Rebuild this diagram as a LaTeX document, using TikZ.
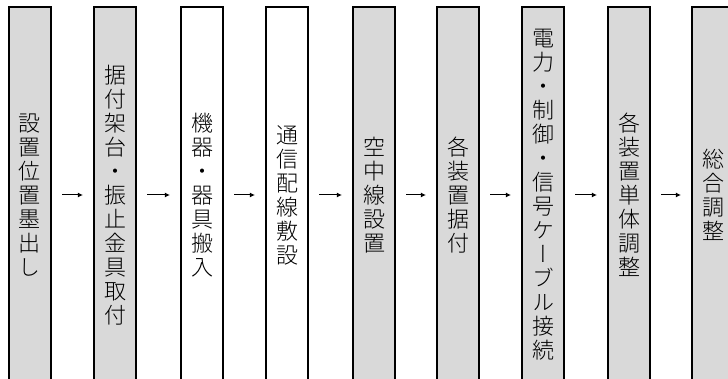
\documentclass[tikz,border=0pt]{standalone}
\usepackage{fontspec}
\newfontfamily\jpfont[RawFeature={+vert}]{Noto Sans CJK JP Light}
\usepackage{tikz}
\usetikzlibrary{arrows.meta,positioning}
\definecolor{stepc}{HTML}{D9D9D9}
\tikzset{
  >={Latex[length=5pt,width=5pt]},
  stage/.style={draw=black,line width=2.2pt,fill=white,minimum width=42pt,minimum height=376pt,inner sep=0pt,align=center,font=\jpfont\fontsize{22}{24}\selectfont},
  gstage/.style={stage,fill=stepc},
  flow/.style={->,line width=1pt,shorten <=10pt,shorten >=10pt},
}
\begin{document}
\begin{tikzpicture}[x=1pt,y=-1pt]
  \useasboundingbox (0,0) rectangle (728,379);
  \clip (0,0) rectangle (728,379);
  \node[gstage] (b1) at (30,195) {設\\置\\位\\置\\墨\\出\\し};
  \node[gstage] (b2) at (115,195) {据\\付\\架\\台\\・\\振\\止\\金\\具\\取\\付};
  \node[stage]  (b3) at (202,195) {機\\器\\・\\器\\具\\搬\\入};
  \node[stage]  (b4) at (287,195) {通\\信\\配\\線\\敷\\設};
  \node[gstage] (b5) at (374,195) {空\\中\\線\\設\\置};
  \node[gstage] (b6) at (458,195) {各\\装\\置\\据\\付};
  \node[gstage] (b7) at (543,195) {電\\力\\・\\制\\御\\・\\信\\号\\ケ\\ー\\ブ\\ル\\接\\続};
  \node[gstage] (b8) at (629,195) {各\\装\\置\\単\\体\\調\\整};
  \node[gstage] (b9) at (713,195) {総\\合\\調\\整};
  \foreach \i [evaluate=\i as \j using int(\i+1)] in {1,...,8}
    \draw[flow] (b\i) -- (b\j);
\end{tikzpicture}
\end{document}
